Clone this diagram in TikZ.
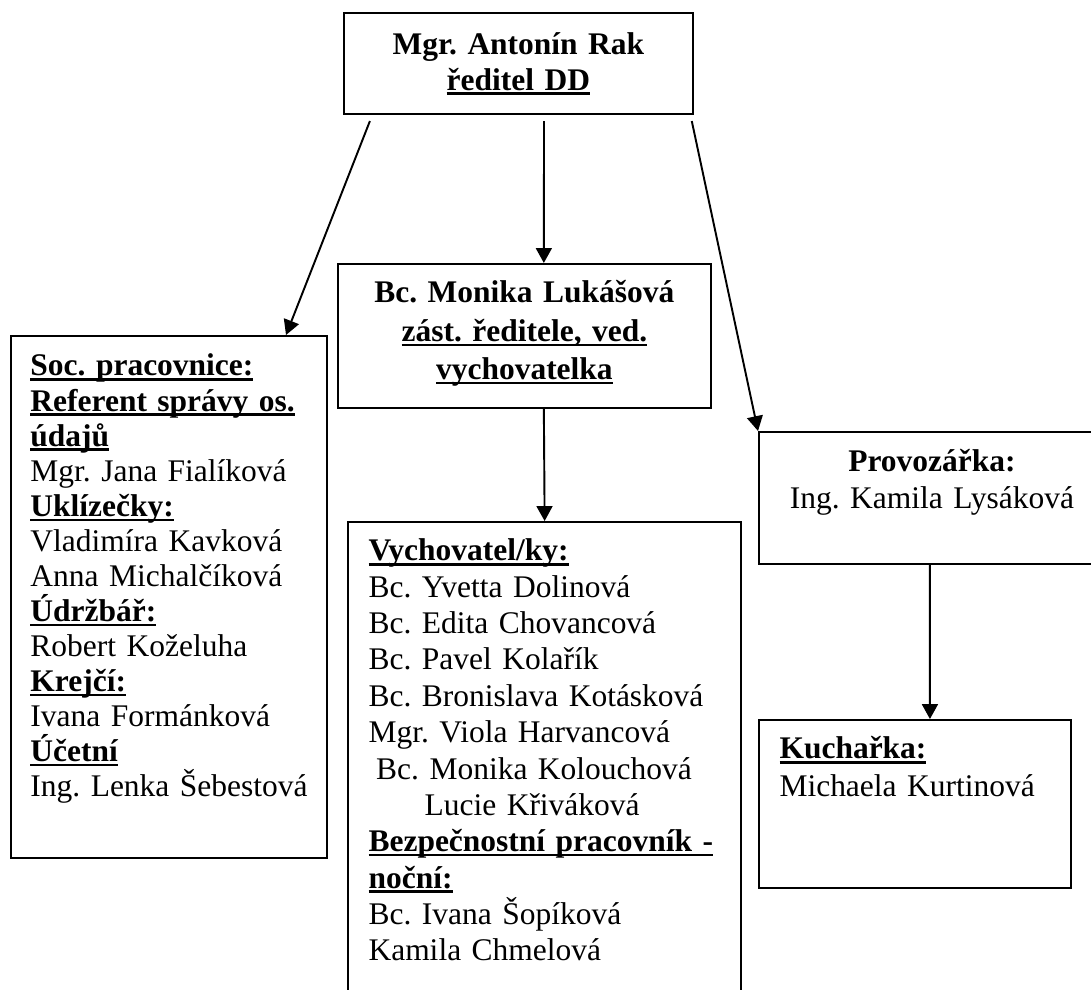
\documentclass[tikz,border=0pt]{standalone}
\usepackage{fontspec}
\setmainfont{Liberation Serif}
\usepackage{tikz}
\usetikzlibrary{arrows.meta}
\frenchspacing
\newcommand{\podtrh}[1]{\leavevmode\setbox0\hbox{#1}\rlap{\rule[-1.8pt]{\wd0}{0.9pt}}\box0}
\tikzset{
    orgbox/.style={draw, line width=0.75pt, inner sep=0pt, anchor=north west},
    boxtext/.style={inner sep=0pt, anchor=base west, align=left},
    boxtitle/.style={inner sep=0pt, anchor=base, align=center},
    link/.style={line width=0.75pt, -{Triangle[length=5.8pt,width=6.2pt]}},
}
\begin{document}
\begin{tikzpicture}
            \useasboundingbox (0,0) rectangle (14.98,13.58);
            \clip (0,0) rectangle (14.98,13.58);

            \node[orgbox, minimum width=4.79cm, minimum height=1.39cm] (boss) at (4.71,13.415) {};
            \node[orgbox, minimum width=5.12cm, minimum height=1.98cm] (deputy) at (4.627,9.969) {};
            \node[orgbox, minimum width=4.34cm, minimum height=7.17cm] (social) at (0.137,8.98) {};
            \node[orgbox, minimum width=5.40cm, minimum height=7.2cm] (tutors) at (4.765,6.426) {};
            \node[orgbox, minimum width=4.75cm, minimum height=1.81cm] (ops) at (10.408,7.662) {};
            \node[orgbox, minimum width=4.28cm, minimum height=2.31cm] (cook) at (10.408,3.707) {};

            \node[boxtitle, text width=4.79cm, font=\fontsize{12.3}{13.7}\selectfont\bfseries] (bossText)
                at ([yshift=-16.8pt]boss.north) {Mgr. Antonín Rak\\ \podtrh{ředitel DD}};
            \node[boxtitle, text width=5.12cm, font=\fontsize{12.3}{15}\selectfont\bfseries] (deputyText)
                at ([yshift=-15.6pt]deputy.north) {Bc. Monika Lukášová\\ \podtrh{zást. ředitele, ved.}\\ \podtrh{vychovatelka}};
            \node[boxtext, text width=4.1cm, font=\fontsize{12.3}{13.7}\selectfont] (socialText)
                at ([xshift=7.8pt,yshift=-16pt]social.north west) {%
                \textbf{\podtrh{Soc. pracovnice:}}\\
                \textbf{\podtrh{Referent správy os.}}\\
                \textbf{\podtrh{údajů}}\\
                Mgr. Jana Fialíková\\
                \textbf{\podtrh{Uklízečky:}}\\
                Vladimíra Kavková\\
                Anna Michalčíková\\
                \textbf{\podtrh{Údržbář:}}\\
                Robert Koželuha\\
                \textbf{\podtrh{Krejčí:}}\\
                Ivana Formánková\\
                \textbf{\podtrh{Účetní}}\\
                Ing. Lenka Šebestová};
            \node[boxtext, text width=5.0cm, font=\fontsize{12.3}{14.2}\selectfont] (tutorsText)
                at ([xshift=8.2pt,yshift=-15.6pt]tutors.north west) {%
                \textbf{\podtrh{Vychovatel/ky:}}\\
                Bc. Yvetta Dolinová\\
                Bc. Edita Chovancová\\
                Bc. Pavel Kolařík\\
                Bc. Bronislava Kotásková\\
                Mgr. Viola Harvancová\\
                \hspace*{3pt}Bc. Monika Kolouchová\\
                \hspace*{21.9pt}Lucie Křiváková\\
                \textbf{\podtrh{Bezpečnostní pracovník -}}\\
                \textbf{\podtrh{noční:}}\\
                Bc. Ivana Šopíková\\
                Kamila Chmelová};
            \node[boxtitle, text width=4.75cm, font=\fontsize{12.3}{14.2}\selectfont] (opsText)
                at ([yshift=-16pt]ops.north) {\textbf{Provozářka:}\\ Ing. Kamila Lysáková};
            \node[boxtext, text width=4.0cm, font=\fontsize{12.3}{14.6}\selectfont] (cookText)
                at ([xshift=8.2pt,yshift=-15.6pt]cook.north west) {\textbf{\podtrh{Kuchařka:}}\\ Michaela Kurtinová};

            \draw[link] ([xshift=10.5pt,yshift=-2.3pt]boss.south west) -- ([xshift=-16.4pt]social.north east);
            \draw[link] ([xshift=10pt,yshift=-2.3pt]boss.south) -- ([xshift=7.6pt]deputy.north);
            \draw[link] ([xshift=-0.8pt,yshift=-2.3pt]boss.south east) -- (ops.north west);
            \draw[link] ([xshift=7.6pt]deputy.south) -- (tutors.north);
            \draw[link] ([xshift=-0.8pt]ops.south) -- ([xshift=5.9pt]cook.north);
        \end{tikzpicture}
\end{document}
